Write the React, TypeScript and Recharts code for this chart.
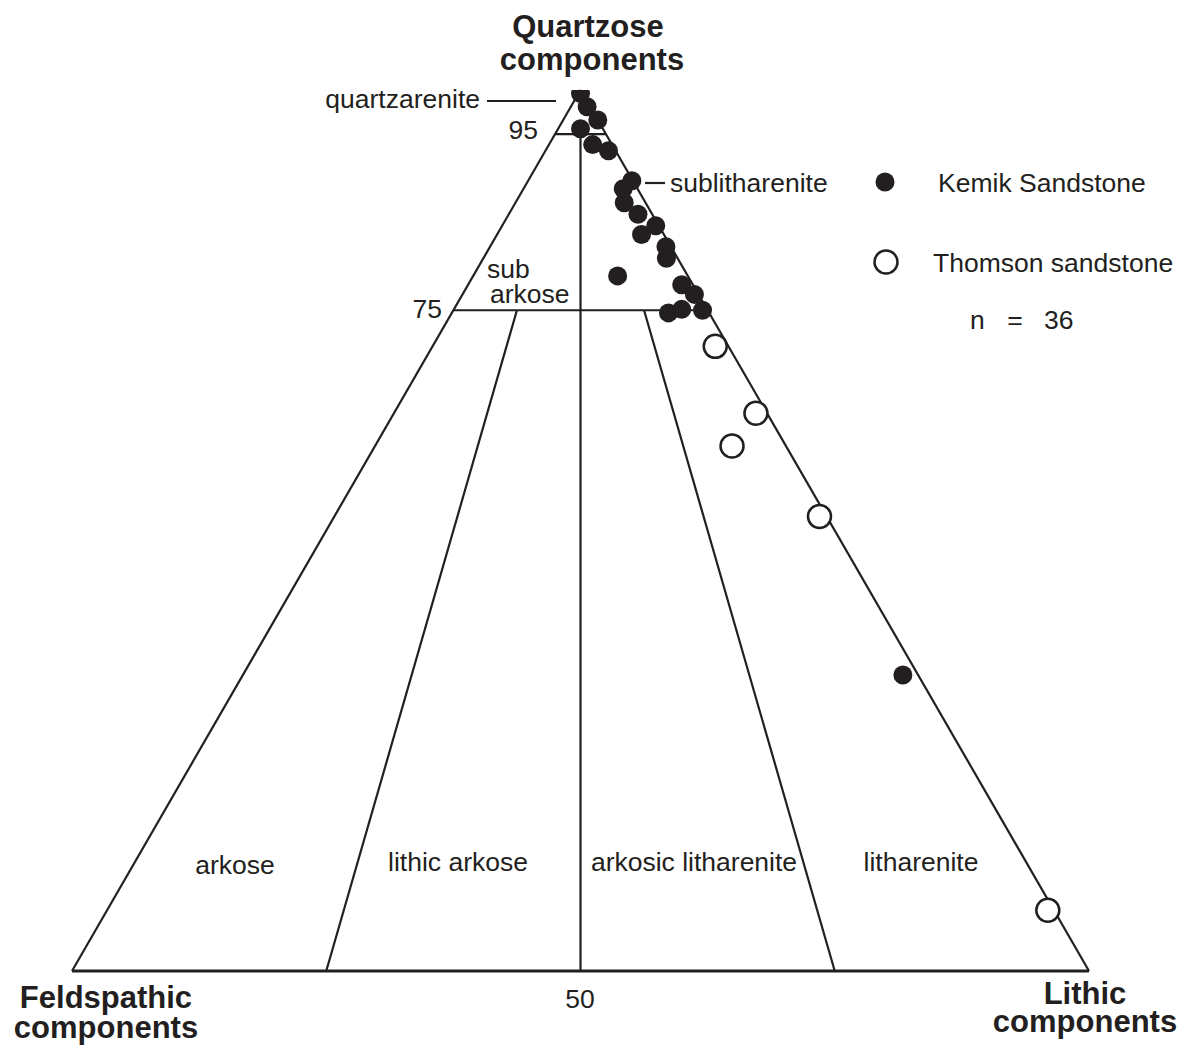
import { ScatterChart, Scatter, XAxis, YAxis, ReferenceLine } from 'recharts'

// ternary compositions: [Q, F, L] in percent
const kemik: [number, number, number][] = [
  [99.6, 0.2, 0.2],
  [98.1, 0.3, 1.6],
  [96.6, 0.0, 3.4],
  [95.6, 2.2, 2.2],
  [93.8, 1.9, 4.3],
  [93.1, 0.7, 6.2],
  [89.7, 0.1, 10.2],
  [88.8, 1.4, 9.8],
  [87.2, 2.1, 10.7],
  [85.9, 1.4, 12.7],
  [84.6, 0.3, 15.1],
  [83.6, 2.2, 14.2],
  [82.2, 0.5, 17.3],
  [80.9, 1.1, 18.0],
  [78.9, 6.9, 14.2],
  [77.9, 1.1, 21.0],
  [76.8, 0.4, 22.8],
  [74.7, 4.0, 21.3],
  [75.1, 2.5, 22.4],
  [75.0, 0.5, 24.5],
  [33.6, 1.5, 64.9],
]

const thomson: [number, number, number][] = [
  [70.9, 1.3, 27.8],
  [63.3, 1.1, 35.6],
  [59.6, 5.3, 35.1],
  [51.6, 0.7, 47.7],
  [6.9, 0.6, 92.5],
]

// Folk classification boundaries, each segment as two [Q, F, L] points
const boundaries: [number, number, number][][] = [
  [[0, 100, 0], [0, 0, 100]],
  [[0, 100, 0], [100, 0, 0]],
  [[100, 0, 0], [0, 0, 100]],
  [[95, 5, 0], [95, 0, 5]],
  [[75, 25, 0], [75, 0, 25]],
  [[0, 50, 50], [95, 2.5, 2.5]],
  [[0, 75, 25], [75, 18.75, 6.25]],
  [[0, 25, 75], [75, 6.25, 18.75]],
]

const INK = '#231f20'
const FONT = '"Liberation Sans", Arial, Helvetica, sans-serif'

function toXY([q, f, l]: [number, number, number]) {
  const s = q + f + l
  const qn = (q / s) * 100
  const ln = (l / s) * 100
  return { x: ln + qn / 2, y: (qn * Math.sqrt(3)) / 2 }
}

const kemikData = kemik.map(toXY)
const thomsonData = thomson.map(toXY)

const FilledDot = (props: any) => <circle cx={props.cx} cy={props.cy} r={9.5} fill={INK} />
const OpenDot = (props: any) => (
  <circle cx={props.cx} cy={props.cy} r={11.5} fill="#fff" stroke={INK} strokeWidth={2.5} />
)

const txt = { fontFamily: FONT, fontSize: 26.5, fill: INK }
const bold = { fontFamily: FONT, fontSize: 31, fontWeight: 700, fill: INK }

export default function App() {
  return (
    <div style={{ position: 'absolute', left: 0, top: 0, width: 1185, height: 1045, background: '#fff' }}>
      <ScatterChart width={1185} height={1045} margin={{ top: 90, right: 96, bottom: 74, left: 72 }}>
        <XAxis type="number" dataKey="x" domain={[0, 100]} allowDataOverflow hide />
        <YAxis type="number" dataKey="y" domain={[0, 86.6025]} allowDataOverflow hide />
        {boundaries.map((seg, i) => (
          <ReferenceLine
            key={i}
            segment={[toXY(seg[0]), toXY(seg[1])]}
            stroke={INK}
            strokeWidth={i === 0 ? 2.8 : 2.2}
            ifOverflow="visible"
          />
        ))}
        <Scatter data={thomsonData} shape={OpenDot} isAnimationActive={false} />
        <Scatter data={kemikData} shape={FilledDot} isAnimationActive={false} />
      </ScatterChart>
      <svg
        width={1185}
        height={1045}
        style={{ position: 'absolute', left: 0, top: 0, pointerEvents: 'none' }}
      >
        <text textAnchor="middle" {...bold}>
          <tspan x={588} y={37}>Quartzose</tspan>
          <tspan x={592} y={70}>components</tspan>
        </text>
        <text textAnchor="middle" {...bold}>
          <tspan x={106} y={1008}>Feldspathic</tspan>
          <tspan x={106} y={1038}>components</tspan>
        </text>
        <text textAnchor="middle" {...bold}>
          <tspan x={1085} y={1004}>Lithic</tspan>
          <tspan x={1085} y={1032}>components</tspan>
        </text>

        <text x={480} y={108} textAnchor="end" {...txt}>quartzarenite</text>
        <line x1={487} y1={101} x2={556} y2={101} stroke={INK} strokeWidth={2.2} />
        <text x={538} y={139} textAnchor="end" {...txt}>95</text>
        <text x={442} y={318} textAnchor="end" {...txt}>75</text>
        <text x={580} y={1008} textAnchor="middle" {...txt}>50</text>
        <line x1={645} y1={183} x2={665} y2={183} stroke={INK} strokeWidth={2.2} />
        <text x={670} y={192} {...txt}>sublitharenite</text>
        <text {...txt}>
          <tspan x={487} y={278}>sub</tspan>
          <tspan x={490} y={303}>arkose</tspan>
        </text>

        <text x={235} y={874} textAnchor="middle" {...txt}>arkose</text>
        <text x={458} y={871} textAnchor="middle" {...txt}>lithic arkose</text>
        <text x={694} y={871} textAnchor="middle" {...txt}>arkosic litharenite</text>
        <text x={921} y={871} textAnchor="middle" {...txt}>litharenite</text>

        <circle cx={885} cy={182} r={9.5} fill={INK} />
        <text x={938} y={192} {...txt}>Kemik Sandstone</text>
        <circle cx={886} cy={262} r={11.5} fill="#fff" stroke={INK} strokeWidth={2.5} />
        <text x={933} y={272} {...txt}>Thomson sandstone</text>
        <text x={970} y={329} {...txt}>n</text>
        <text x={1015} y={329} textAnchor="middle" {...txt}>=</text>
        <text x={1044} y={329} {...txt}>36</text>
      </svg>
    </div>
  )
}
